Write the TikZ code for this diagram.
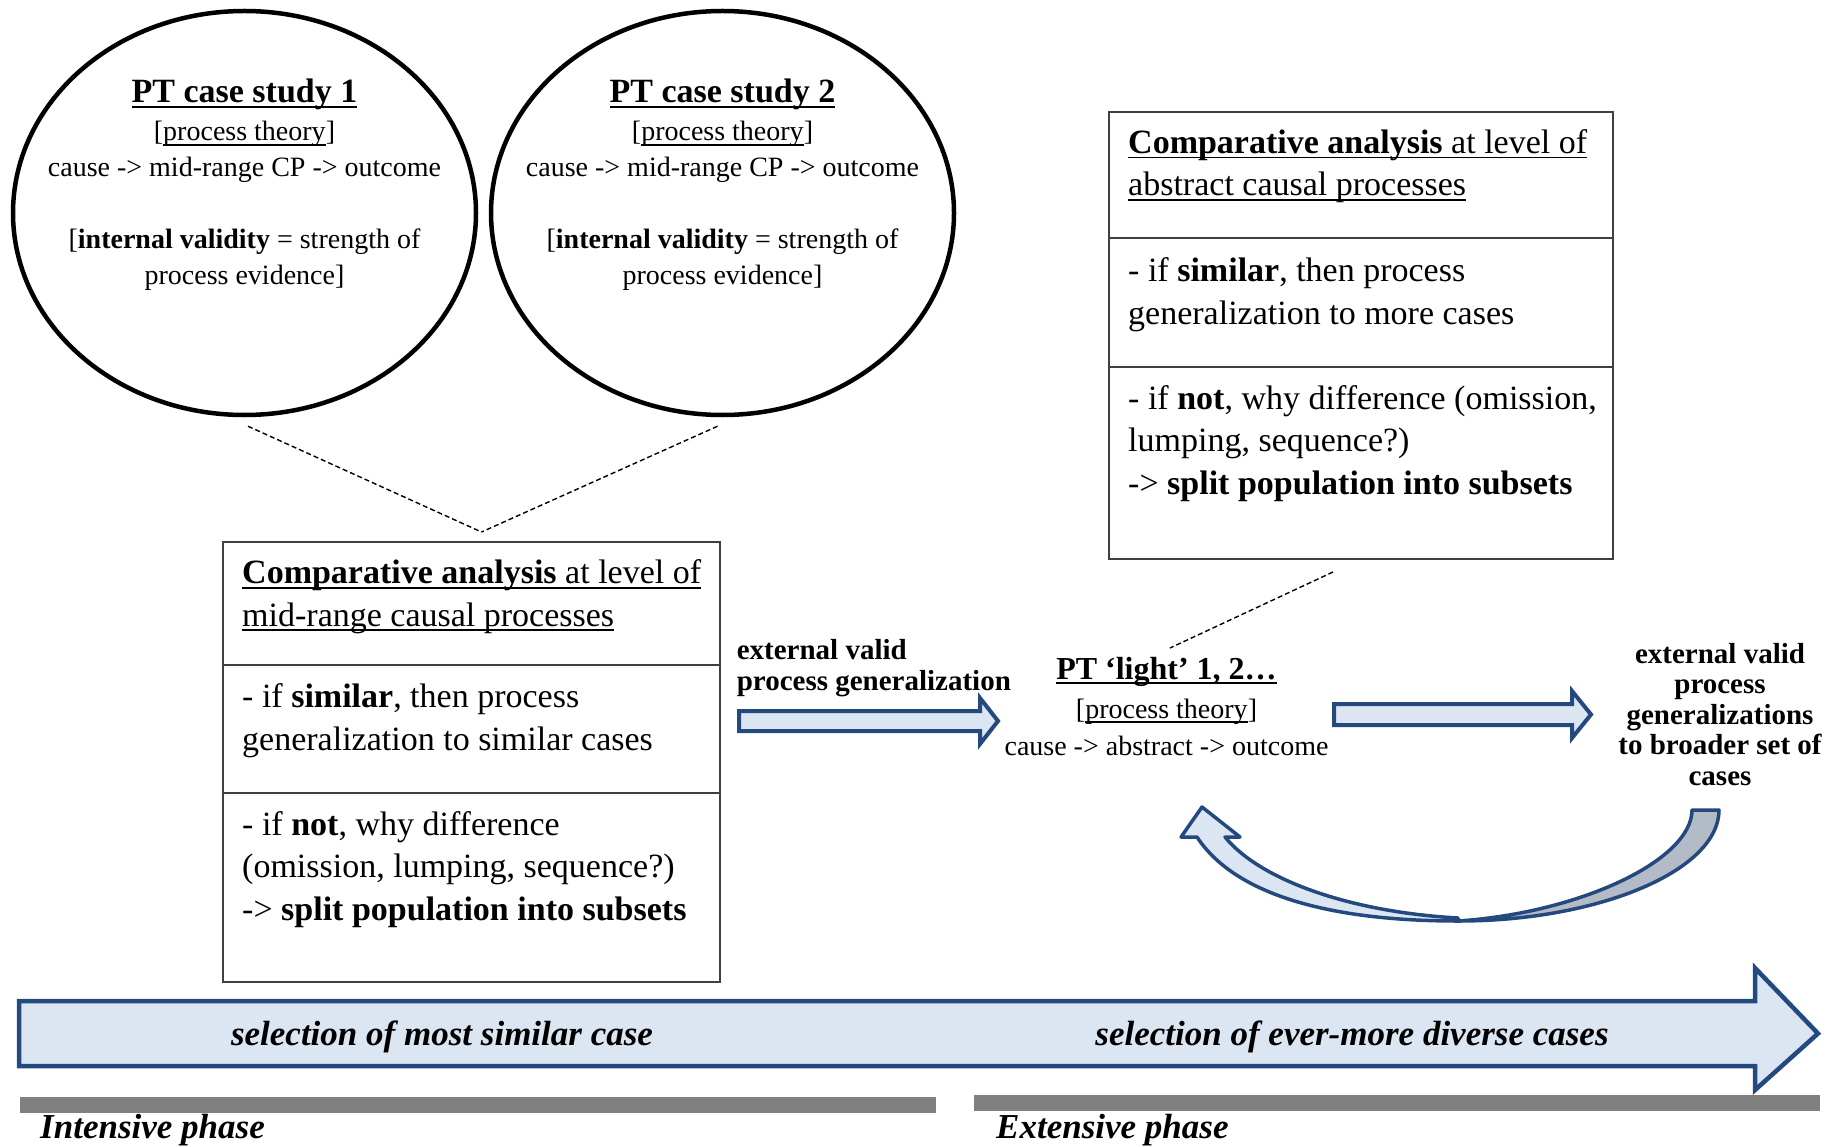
\documentclass[tikz,border=0pt]{standalone}
\usepackage{fontspec}
\setmainfont{Liberation Serif}
\usetikzlibrary{shapes.geometric,calc}

\definecolor{arrowblue}{HTML}{24497E}
\definecolor{arrowfill}{HTML}{DCE6F2}
\definecolor{backfill}{HTML}{B3BBC6}
\definecolor{phasegrey}{HTML}{808080}
\definecolor{boxgrey}{HTML}{404040}

\newsavebox{\ulbox}
\newcommand{\undl}[1]{\sbox{\ulbox}{#1}\rlap{\rule[-5pt]{\wd\ulbox}{1.8pt}}\usebox{\ulbox}}

\newcommand{\ellsize}{\fontsize{28}{36}\selectfont}
\newcommand{\ttlsize}{\fontsize{34}{36}\selectfont}
\newcommand{\boxsize}{\fontsize{34}{42.5}\selectfont}
\newcommand{\lblsize}{\fontsize{29}{30.5}\selectfont}
\newcommand{\phsize}{\fontsize{35}{40}\selectfont}

\begin{document}
\begin{tikzpicture}[x=1pt,y=-1pt,
  casecircle/.style={ellipse,draw,line width=4.5pt,minimum width=463pt,minimum height=404pt,inner sep=0pt},
  pbox/.style={draw=boxgrey,line width=2pt,inner sep=0pt,anchor=north west},
  divider/.style={boxgrey,line width=2pt},
  dashline/.style={line width=1.4pt,dash pattern=on 5pt off 3pt},
  blockarrow/.style={draw=arrowblue,fill=arrowfill,line width=4pt,line join=miter},
  txt/.style={inner sep=0pt,align=center}]

\useasboundingbox (0,0) rectangle (1835,1147);

% The case studies (base = last line)
\node[casecircle] (cs1) at (244.5,213) {};
\node[casecircle] (cs2) at (722.5,213) {};
\foreach \c/\n in {cs1/1,cs2/2}{
\node[txt,font=\ellsize,anchor=base] (\c-txt) at ([yshift=-72pt]\c.center)
  {{\ttlsize\undl{\textbf{PT case study \n}}}\\[2pt]
   [\undl{process theory}]\\
   cause -> mid-range CP -> outcome\\[36pt]
   [\textbf{internal validity} = strength of\\
   process evidence]};
}

\coordinate (join1) at (481.5,532);
\draw[dashline] ($(cs1.south)+(3.5,9)$) -- (join1);
\draw[dashline] ($(cs2.south)+(-5,9)$) -- (join1);

% Comparative analysis, mid-range
\node[pbox,minimum width=497pt,minimum height=440pt] (box1) at (222,541) {};
\draw[divider] ($(box1.north west)+(0,124)$) -- ($(box1.north east)+(0,124)$);
\draw[divider] ($(box1.north west)+(0,252)$) -- ($(box1.north east)+(0,252)$);
\node[txt,align=left,anchor=base west,font=\boxsize] (box1a) at (242,626)
  {\undl{\textbf{Comparative analysis} at level of}\\
   \undl{mid-range causal processes}};
\node[txt,align=left,anchor=base west,font=\boxsize] (box1b) at (242,750)
  {- if \textbf{similar}, then process\\
   generalization to similar cases};
\node[txt,align=left,anchor=base west,font=\boxsize] (box1c) at (242,920)
  {- if \textbf{not}, why difference\\
   (omission, lumping, sequence?)\\
   -> \textbf{split population into subsets}};

% Comparative analysis, abstract
\node[pbox,minimum width=504pt,minimum height=447pt] (box2) at (1108,111) {};
\draw[divider] ($(box2.north west)+(0,127)$) -- ($(box2.north east)+(0,127)$);
\draw[divider] ($(box2.north west)+(0,255.7)$) -- ($(box2.north east)+(0,255.7)$);
\node[txt,align=left,anchor=base west,font=\boxsize] (box2a) at (1128,196)
  {\undl{\textbf{Comparative analysis} at level of}\\
   \undl{abstract causal processes}};
\node[txt,align=left,anchor=base west,font=\boxsize] (box2b) at (1128,324)
  {- if \textbf{similar}, then process\\
   generalization to more cases};
\node[txt,align=left,anchor=base west,font=\boxsize] (box2c) at (1128,494)
  {- if \textbf{not}, why difference (omission,\\
   lumping, sequence?)\\
   -> \textbf{split population into subsets}};

% PT light
\node[txt,font=\ellsize,anchor=base] (ptl) at (1166.5,755)
  {{\fontsize{32}{36}\selectfont\undl{\textbf{PT ‘light’ 1, 2…}}}\\[3pt]
   [\undl{process theory}]\\[1pt]
   cause -> abstract -> outcome};
\coordinate (join2) at (1170,648);
\draw[dashline] ($(box2.south)+(-28,12)$) -- (join2);

\node[txt,align=left,anchor=base west,font=\lblsize\bfseries] (gen1) at (736.6,690)
  {external valid\\ process generalization};
\node[txt,font=\lblsize\bfseries,anchor=base] (gen2) at (1720,785)
  {\fontsize{29}{31.6}\selectfont external valid\\ process\\ generalizations\\ to broader set of\\ cases};

% block arrows
\draw[blockarrow] (739,711) -- (980,711) -- (980,698) -- (998,721) -- (980,744) -- (980,731) -- (739,731) -- cycle;
\draw[blockarrow] (1334,704) -- (1572,704) -- (1572,691) -- (1591,714.5) -- (1572,738) -- (1572,725) -- (1334,725) -- cycle;

% curved arrow back
\draw[blockarrow,fill=backfill,line width=3.5pt,line join=round]
  (1692,810) -- (1719,810) .. controls (1719,870) and (1600,921) .. (1458,921)
  .. controls (1580,913) and (1692,860) .. (1692,810) -- cycle;
\draw[blockarrow,line width=3.5pt,line join=round]
  (1458,921) .. controls (1330,921) and (1235,895) .. (1197,837)
  -- (1181,837) -- (1202,807) -- (1240,837) -- (1225,837)
  .. controls (1260,880) and (1350,912) .. (1458,918) -- cycle;

% selection arrow
\draw[blockarrow,line width=4.5pt] (19,1001) -- (1755,1001) -- (1755,968) -- (1818,1033.5)
  -- (1755,1090) -- (1755,1066) -- (19,1066) -- cycle;
\node[txt,font=\phsize\bfseries\itshape,anchor=base] (sel1) at (442,1045) {selection of most similar case};
\node[txt,font=\phsize\bfseries\itshape,anchor=base] (sel2) at (1352,1045) {selection of ever-more diverse cases};

% phases
\fill[phasegrey] (20,1097) rectangle (936,1113);
\fill[phasegrey] (974,1095) rectangle (1820,1110.7);
\node[txt,font=\phsize\bfseries\itshape,anchor=base west] (int) at (40,1138) {Intensive phase};
\node[txt,font=\phsize\bfseries\itshape,anchor=base west] (ext) at (996,1138) {Extensive phase};

\end{tikzpicture}
\end{document}
